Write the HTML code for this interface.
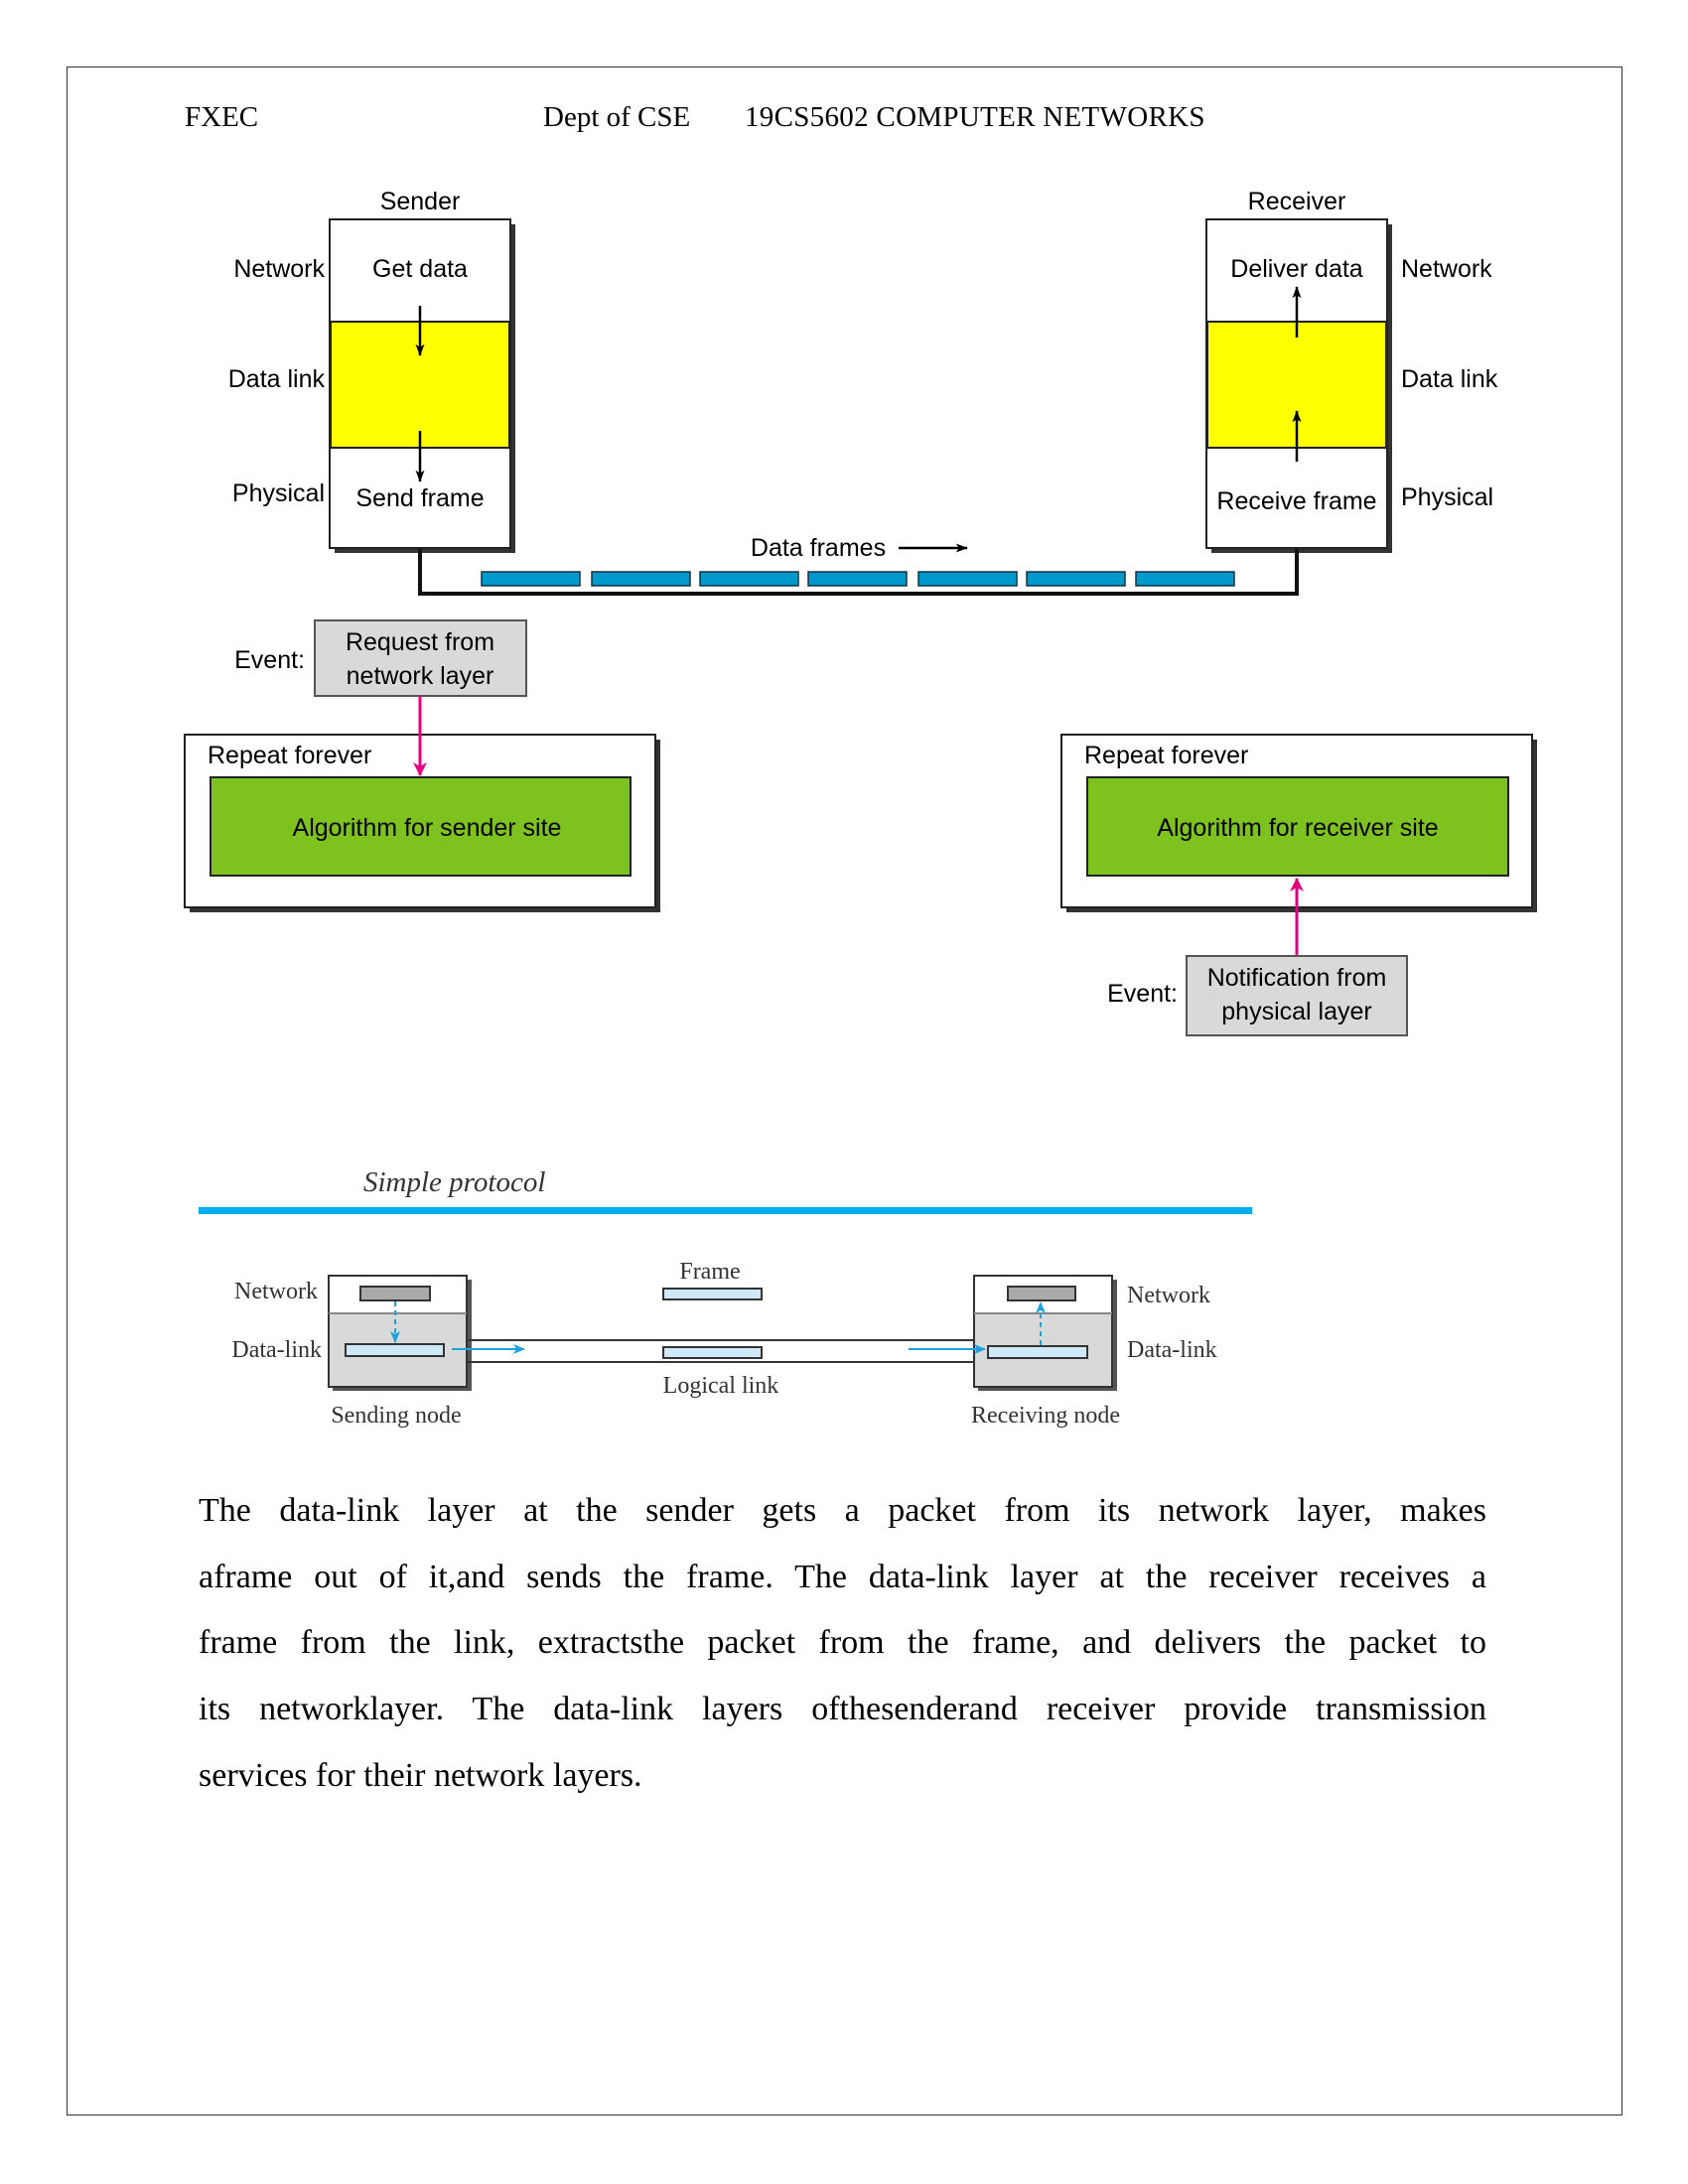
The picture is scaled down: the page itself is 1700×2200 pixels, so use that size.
<!DOCTYPE html>
<html><head><meta charset="utf-8"><style>
body{margin:0;width:1700px;height:2200px;background:#fff;position:relative;overflow:hidden;font-family:"Liberation Sans",sans-serif}
.a{position:absolute}
.t{font-family:"Liberation Serif",serif}
.p{position:absolute;left:200px;width:1297px;font-family:"Liberation Serif",serif;font-size:34px;text-align:justify;text-align-last:justify;white-space:nowrap}
</style></head><body>
<div class="a" style="left:67px;top:67px;width:1565px;height:2062px;border:1px solid #333"></div>
<div class="a t" style="left:186px;top:102px;font-size:29px">FXEC</div>
<div class="a t" style="left:547px;top:102px;font-size:29px">Dept of CSE</div>
<div class="a t" style="left:750px;top:102px;font-size:29px;letter-spacing:0.3px">19CS5602 COMPUTER NETWORKS</div>

<svg class="a" style="left:0;top:0" width="1700" height="1500" font-family="Liberation Sans, sans-serif" font-size="25">
<defs>
<marker id="k" markerWidth="12" markerHeight="16" refX="15" refY="6" orient="auto" markerUnits="userSpaceOnUse" viewBox="0 0 16 12"><path d="M0,0 L16,6 L0,12 L4,6z" fill="#000"/></marker>
<marker id="pk" markerWidth="14" markerHeight="14" refX="13" refY="7" orient="auto" markerUnits="userSpaceOnUse"><path d="M0,0 L14,7 L0,14 L4,7z" fill="#e6007e"/></marker>
<marker id="bl" markerWidth="12" markerHeight="10" refX="11" refY="5" orient="auto" markerUnits="userSpaceOnUse"><path d="M0,0 L12,5 L0,10 L3,5z" fill="#1aa3e0"/></marker>
</defs>
<rect x="337" y="226" width="182" height="331" fill="#333"/>
<rect x="332" y="221" width="182" height="331" fill="#fff" stroke="#222" stroke-width="2"/>
<rect x="333" y="324" width="180" height="127" fill="#ffff00" stroke="#222" stroke-width="2"/>
<rect x="1220" y="226" width="182" height="331" fill="#333"/>
<rect x="1215" y="221" width="182" height="331" fill="#fff" stroke="#222" stroke-width="2"/>
<rect x="1216" y="324" width="180" height="127" fill="#ffff00" stroke="#222" stroke-width="2"/>
<g text-anchor="middle">
<text x="423" y="211">Sender</text><text x="1306" y="211">Receiver</text>
<text x="423" y="279">Get data</text><text x="423" y="510">Send frame</text>
<text x="1306" y="279">Deliver data</text><text x="1306" y="513">Receive frame</text>
<text x="824" y="560">Data frames</text>
</g>
<g text-anchor="end"><text x="327" y="279">Network</text><text x="327" y="390">Data link</text><text x="327" y="505">Physical</text></g>
<text x="1411" y="279">Network</text><text x="1411" y="390">Data link</text><text x="1411" y="509">Physical</text>
<g stroke="#000" stroke-width="2.5">
<line x1="423" y1="308" x2="423" y2="358" marker-end="url(#k)"/>
<line x1="423" y1="434" x2="423" y2="485" marker-end="url(#k)"/>
<line x1="1306" y1="340" x2="1306" y2="289" marker-end="url(#k)"/>
<line x1="1306" y1="465" x2="1306" y2="414" marker-end="url(#k)"/>
<line x1="905" y1="552" x2="974" y2="552" marker-end="url(#k)"/>
</g>
<polyline points="423,553 423,598 1306,598 1306,553" fill="none" stroke="#111" stroke-width="4"/>
<g fill="#0099cc" stroke="#134" stroke-width="1.5">
<rect x="485" y="576" width="99" height="14"/><rect x="596" y="576" width="99" height="14"/><rect x="705" y="576" width="99" height="14"/><rect x="814" y="576" width="99" height="14"/><rect x="925" y="576" width="99" height="14"/><rect x="1034" y="576" width="99" height="14"/><rect x="1144" y="576" width="99" height="14"/>
</g>
<rect x="317" y="625" width="213" height="76" fill="#d9d9d9" stroke="#555" stroke-width="2"/>
<text x="423" y="655" text-anchor="middle">Request from</text><text x="423" y="689" text-anchor="middle">network layer</text>
<text x="307" y="673" text-anchor="end">Event:</text>
<rect x="191" y="745" width="474" height="174" fill="#333"/>
<rect x="186" y="740" width="474" height="174" fill="#fff" stroke="#222" stroke-width="2"/>
<rect x="212" y="783" width="423" height="99" fill="#7dc21e" stroke="#222" stroke-width="2"/>
<text x="209" y="769">Repeat forever</text>
<text x="430" y="842" text-anchor="middle">Algorithm for sender site</text>
<line x1="423" y1="701" x2="423" y2="781" stroke="#e6007e" stroke-width="3" marker-end="url(#pk)"/>
<rect x="1074" y="745" width="474" height="174" fill="#333"/>
<rect x="1069" y="740" width="474" height="174" fill="#fff" stroke="#222" stroke-width="2"/>
<rect x="1095" y="783" width="424" height="99" fill="#7dc21e" stroke="#222" stroke-width="2"/>
<text x="1092" y="769">Repeat forever</text>
<text x="1307" y="842" text-anchor="middle">Algorithm for receiver site</text>
<line x1="1306" y1="963" x2="1306" y2="885" stroke="#e6007e" stroke-width="3" marker-end="url(#pk)"/>
<rect x="1195" y="963" width="222" height="80" fill="#d9d9d9" stroke="#555" stroke-width="2"/>
<text x="1306" y="993" text-anchor="middle">Notification from</text><text x="1306" y="1027" text-anchor="middle">physical layer</text>
<text x="1186" y="1009" text-anchor="end">Event:</text>
<text x="366" y="1200" font-family="Liberation Serif, serif" font-style="italic" font-size="29" fill="#333">Simple protocol</text>
<rect x="200" y="1216" width="1061" height="7" fill="#00aeef"/>
<g font-family="Liberation Serif, serif" font-size="24" fill="#333">
<rect x="335" y="1289" width="140" height="112" fill="#555"/>
<rect x="331" y="1285" width="139" height="112" fill="#d9d9d9" stroke="#333" stroke-width="2"/>
<rect x="332" y="1286" width="137" height="37" fill="#fff"/>
<line x1="331" y1="1323" x2="470" y2="1323" stroke="#888" stroke-width="2"/>
<rect x="985" y="1289" width="140" height="112" fill="#555"/>
<rect x="981" y="1285" width="139" height="112" fill="#d9d9d9" stroke="#333" stroke-width="2"/>
<rect x="982" y="1286" width="137" height="37" fill="#fff"/>
<line x1="981" y1="1323" x2="1120" y2="1323" stroke="#888" stroke-width="2"/>
<rect x="363" y="1296" width="70" height="14" fill="#aaa" stroke="#333" stroke-width="2"/>
<rect x="1015" y="1296" width="68" height="14" fill="#aaa" stroke="#333" stroke-width="2"/>
<rect x="348" y="1354" width="99" height="12" fill="#cde9f7" stroke="#333" stroke-width="2"/>
<rect x="995" y="1356" width="100" height="12" fill="#cde9f7" stroke="#333" stroke-width="2"/>
<rect x="668" y="1298" width="99" height="11" fill="#cde9f7" stroke="#333" stroke-width="2"/>
<rect x="668" y="1357" width="99" height="11" fill="#cde9f7" stroke="#333" stroke-width="2"/>
<line x1="470" y1="1350" x2="981" y2="1350" stroke="#333" stroke-width="2"/>
<line x1="470" y1="1372" x2="981" y2="1372" stroke="#333" stroke-width="2"/>
<g stroke="#1aa3e0" stroke-width="2">
<line x1="398" y1="1311" x2="398" y2="1352" stroke-dasharray="5,4" marker-end="url(#bl)"/>
<line x1="1048" y1="1355" x2="1048" y2="1312" stroke-dasharray="5,4" marker-end="url(#bl)"/>
<line x1="455" y1="1359" x2="528" y2="1359" marker-end="url(#bl)"/>
<line x1="915" y1="1359" x2="992" y2="1359" marker-end="url(#bl)"/>
</g>
<text x="715" y="1288" text-anchor="middle">Frame</text>
<text x="726" y="1403" text-anchor="middle">Logical link</text>
<text x="399" y="1433" text-anchor="middle">Sending node</text>
<text x="1053" y="1433" text-anchor="middle">Receiving node</text>
<text x="320" y="1308" text-anchor="end">Network</text>
<text x="324" y="1367" text-anchor="end">Data-link</text>
<text x="1135" y="1312">Network</text>
<text x="1135" y="1367">Data-link</text>
</g>
</svg>

<div class="p" style="top:1503px">The data-link layer at the sender gets a packet from its network layer, makes</div>
<div class="p" style="top:1570px">aframe out of it,and sends the frame. The data-link layer at the receiver receives a</div>
<div class="p" style="top:1636px">frame from the link, extractsthe packet from the frame, and delivers the packet to</div>
<div class="p" style="top:1703px">its networklayer. The data-link layers ofthesenderand receiver provide transmission</div>
<div class="p" style="top:1770px;text-align-last:left">services for their network layers.</div>
</body></html>
